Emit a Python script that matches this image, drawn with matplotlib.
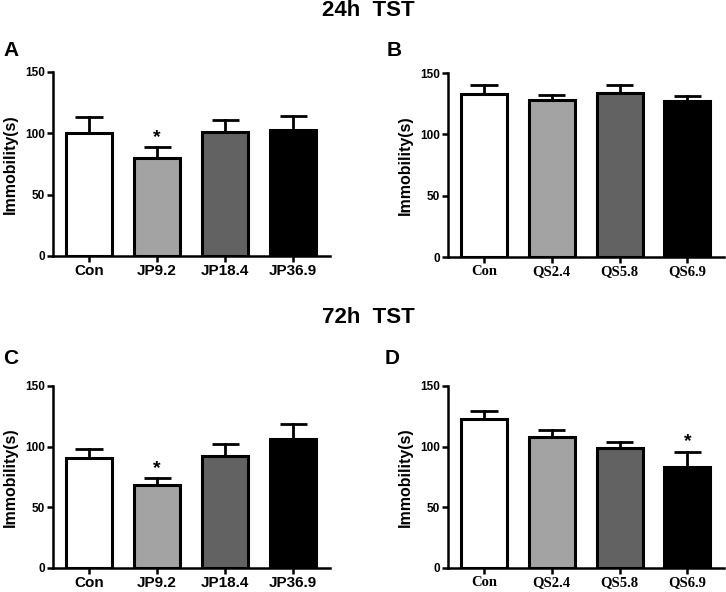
import matplotlib
matplotlib.use('Agg')
import matplotlib.pyplot as plt
from matplotlib.font_manager import FontProperties
import numpy as np

plt.rcParams['font.family'] = ['Liberation Sans', 'DejaVu Sans']

# === Data ===
jp_groups = ['Con', 'JP9.2', 'JP18.4', 'JP36.9']
qs_groups = ['Con', 'QS2.4', 'QS5.8', 'QS6.9']

a_mean = [100, 80, 101, 103]
a_sem = [13, 9, 10, 11]
a_sig = [False, True, False, False]

b_mean = [133, 128, 134, 127]
b_sem = [7, 4, 6, 4]
b_sig = [False, False, False, False]

c_mean = [91, 68, 92, 106]
c_sem = [7, 6, 10, 13]
c_sig = [False, True, False, False]

d_mean = [123, 108, 99, 83]
d_sem = [6, 6, 5, 13]
d_sig = [False, False, False, True]

bar_colors = ['white', '#a3a3a3', '#626262', 'black']

W, H = 726, 592
fig = plt.figure(figsize=(W / 100, H / 100), dpi=100)

serif_font = FontProperties(family='Liberation Serif', weight='bold', size=10.5)
sans_font = FontProperties(family='Liberation Sans', weight='bold', size=11)


def px_axes(x0, y0, x1, y1):
    # pixel box (top-left origin) -> figure fraction
    return fig.add_axes([x0 / W, 1 - y1 / H, (x1 - x0) / W, (y1 - y0) / H])


def panel(ax, groups, mean, sem, sig, serif_ticks):
    x = np.arange(len(groups))
    ax.bar(x, mean, width=0.68, color=bar_colors, edgecolor='black',
           linewidth=2.2, zorder=2)
    for xi, m, s in zip(x, mean, sem):
        ax.plot([xi, xi], [m, m + s], color='black', lw=2.0, zorder=1)
        ax.plot([xi - 0.2, xi + 0.2], [m + s, m + s], color='black', lw=2.0,
                solid_capstyle='butt', zorder=1)
    for xi, m, s, flag in zip(x, mean, sem, sig):
        if flag:
            ax.text(xi, m + s + 1, '*', ha='center', va='bottom',
                    fontsize=14, fontweight='bold')
    ax.set_xlim(-0.53, 3.54)
    ax.set_ylim(0, 150)
    ax.set_yticks([0, 50, 100, 150])
    ax.set_xticks(x)
    ax.set_xticklabels(groups)
    for lab in ax.get_xticklabels():
        lab.set_fontproperties(serif_font if serif_ticks else sans_font)
    for lab in ax.get_yticklabels():
        lab.set_fontsize(8.5)
        lab.set_fontweight('bold')
    ax.set_ylabel('Immobility(s)', fontsize=11.5, fontweight='bold', labelpad=5)
    for side in ['top', 'right']:
        ax.spines[side].set_visible(False)
    for side in ['left', 'bottom']:
        ax.spines[side].set_linewidth(1.8)
    ax.tick_params(axis='both', width=1.8, length=4, pad=2)


ax_a = px_axes(53, 72, 330, 256)
ax_b = px_axes(448, 73, 724, 257)
ax_c = px_axes(53, 386, 330, 568)
ax_d = px_axes(448, 386, 724, 568)

panel(ax_a, jp_groups, a_mean, a_sem, a_sig, False)
panel(ax_b, qs_groups, b_mean, b_sem, b_sig, True)
panel(ax_c, jp_groups, c_mean, c_sem, c_sig, False)
panel(ax_d, qs_groups, d_mean, d_sem, d_sig, True)

fig.text(368 / W, 1 - 11 / H, '24h  TST', ha='center', va='center',
         fontsize=16, fontweight='bold')
fig.text(368 / W, 1 - 317 / H, '72h  TST', ha='center', va='center',
         fontsize=16, fontweight='bold')

for letter, (px, py) in zip('ABCD', [(3, 50), (387, 50), (3, 359), (385, 359)]):
    fig.text(px / W, 1 - py / H, letter, ha='left', va='center',
             fontsize=15, fontweight='bold')

fig.savefig('out.png', dpi=100)
